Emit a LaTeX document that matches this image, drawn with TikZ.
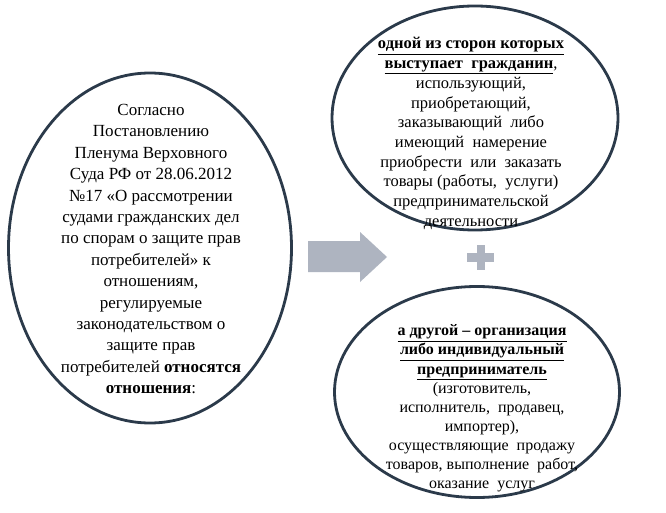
\documentclass[tikz,border=0pt]{standalone}
\usepackage{fontspec}
\setmainfont{Liberation Serif}
\usetikzlibrary{shapes.geometric}
\definecolor{edge}{HTML}{2B3A4A}
\definecolor{arrowgray}{HTML}{AEB4C0}
\begin{document}
\begin{tikzpicture}[x=1pt,y=-1pt,
  oval/.style={ellipse,draw=edge,line width=2.8pt,inner sep=0pt},
  bigtext/.style={align=center,font=\fontsize{17}{21.4}\selectfont,inner sep=0pt},
  smalltext/.style={align=center,inner sep=0pt}]
\useasboundingbox (0,0) rectangle (666,513);
\fill[white] (0,0) rectangle (666,513);
% ellipses
\node[oval,minimum width=283pt,minimum height=350pt] (left) at (150,248) {};
\node[oval,minimum width=286pt,minimum height=224pt] (tr) at (475,118) {};
\node[oval,minimum width=285pt,minimum height=211pt] (br) at (477,392) {};
% texts
\node[bigtext] (lt) at (151,249) {Согласно\\Постановлению\\Пленума Верховного\\Суда РФ от 28.06.2012\\№17 «О рассмотрении\\судами гражданских дел\\по спорам о защите прав\\потребителей» к\\отношениям,\\регулируемые\\законодательством о\\защите прав\\потребителей \textbf{относятся}\\\textbf{отношения}:};
\node[smalltext,font=\fontsize{16.5}{19.7}\selectfont] (trt) at (471,133.5) {\underline{\textbf{одной из сторон которых}}\\\underline{\textbf{выступает\ \ гражданин}},\\использующий,\\приобретающий,\\заказывающий\ \ либо\\имеющий\ \ намерение\\приобрести\ \ или\ \ заказать\\товары\ (работы,\ \ услуги)\\предпринимательской\\деятельности};
\node[smalltext,font=\fontsize{16}{19.1}\selectfont] (brt) at (482,408.5) {\underline{\textbf{а другой -- организация}}\\\underline{\textbf{либо индивидуальный}}\\\underline{\textbf{предприниматель}}\\(изготовитель,\\исполнитель,\ \ продавец,\\импортер),\\осуществляющие\ \ продажу\\товаров, выполнение\ \ работ,\\оказание\ \ услуг};
% arrow
\fill[arrowgray] (308,241) -- (360,241) -- (360,232) -- (387,257) -- (360,282) -- (360,272) -- (308,272) -- cycle;
% plus
\fill[arrowgray] (467,253) rectangle (494,262);
\fill[arrowgray] (477,245) rectangle (485,270);
\end{tikzpicture}
\end{document}
